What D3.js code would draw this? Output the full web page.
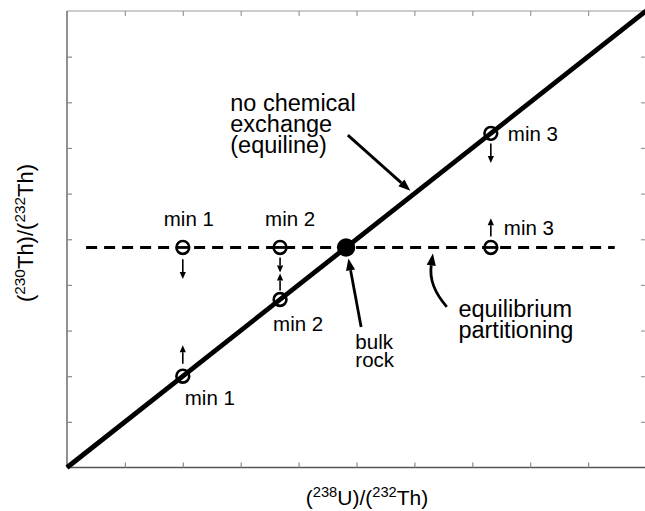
<!DOCTYPE html>
<html>
<head>
<meta charset="utf-8">
<script src="https://cdn.jsdelivr.net/npm/d3@7"></script>
<style>
  html, body { margin: 0; padding: 0; background: #fff; }
  svg { display: block; }
  text { font-family: "Liberation Sans", Arial, Helvetica, sans-serif; fill: #000; }
</style>
</head>
<body>
<svg id="chart" width="645" height="511"></svg>
<script>
// Activity ratios (dimensionless, arbitrary units on a 0–10 frame)
const minerals = ["min 1", "min 2", "min 3"];
const mineralU = [2.0, 3.68, 7.32];          // (238U)/(232Th) of each mineral
const bulkU = 4.82;                           // bulk rock (238U)/(232Th)
const bulkTh = 4.82;                          // bulk rock (230Th)/(232Th)
const partitionExtent = [0.33, 9.46];         // span of the equilibrium-partitioning line
const xTicks = [1, 2, 3, 4, 5, 6, 7, 8, 9];
const yTicks = [1, 2, 3, 4, 5, 6, 7, 8, 9];

// Direction of ingrowth for each mineral (start / end of small arrows, Th ratio units)
const equilineShift = [[2.27, 2.68], [3.88, 4.25], [7.10, 6.67]];
const partitionShift = [[4.56, 4.13], [4.60, 4.27], [5.06, 5.46]];

const svg = d3.select("#chart");
const x = d3.scaleLinear().domain([0, 10]).range([67, 646]);
const y = d3.scaleLinear().domain([0, 10]).range([467.5, 11]);

// Frame and inward ticks
const frame = svg.append("g");
frame.append("line").attr("x1", x(0)).attr("x2", x(10)).attr("y1", y(10)).attr("y2", y(10))
  .attr("stroke", "#9a9a9a").attr("stroke-width", 1.2);
frame.append("line").attr("x1", x(10)).attr("x2", x(10)).attr("y1", y(0)).attr("y2", y(10))
  .attr("stroke", "#9a9a9a").attr("stroke-width", 1.2);

const bottomAxis = d3.axisBottom(x).tickValues(xTicks).tickSize(-5).tickFormat("");
const topAxis = d3.axisTop(x).tickValues(xTicks).tickSize(-5).tickFormat("");
const leftAxis = d3.axisLeft(y).tickValues(yTicks).tickSize(-5).tickFormat("");
const rightAxis = d3.axisRight(y).tickValues(yTicks).tickSize(-5).tickFormat("");

function styleAxis(g, col) {
  g.select(".domain").remove();
  g.selectAll(".tick line").attr("stroke", col).attr("stroke-width", 1.2);
}
svg.append("g").attr("transform", `translate(0,${y(10)})`).call(topAxis).call(g => styleAxis(g, "#9a9a9a"));
svg.append("g").attr("transform", `translate(${x(10)},0)`).call(rightAxis).call(g => styleAxis(g, "#9a9a9a"));
svg.append("g").attr("transform", `translate(0,${y(0)})`).call(bottomAxis).call(g => styleAxis(g, "#8a8a8a"));
svg.append("g").attr("transform", `translate(${x(0)},0)`).call(leftAxis).call(g => styleAxis(g, "#8a8a8a"));

frame.append("line").attr("x1", x(0)).attr("x2", x(10)).attr("y1", y(0)).attr("y2", y(0))
  .attr("stroke", "#555").attr("stroke-width", 1.3);
frame.append("line").attr("x1", x(0)).attr("x2", x(0)).attr("y1", y(0)).attr("y2", y(10))
  .attr("stroke", "#555").attr("stroke-width", 1.3);

// Equilibrium partitioning (horizontal dashed line through bulk rock)
svg.append("line")
  .attr("x1", x(partitionExtent[0])).attr("x2", x(partitionExtent[1]))
  .attr("y1", y(bulkTh)).attr("y2", y(bulkTh))
  .attr("stroke", "#000").attr("stroke-width", 3)
  .attr("stroke-dasharray", "11,7");

// Equiline: no chemical exchange
svg.append("path")
  .datum([0, 10])
  .attr("d", d3.line().x(d => x(d)).y(d => y(d)))
  .attr("stroke", "#000").attr("stroke-width", 4.8).attr("fill", "none");

// Mineral symbols on the equiline (open circles)
const R = 6.4;
svg.append("g").selectAll("circle")
  .data(mineralU)
  .join("circle")
  .attr("cx", d => x(d)).attr("cy", d => y(d)).attr("r", R)
  .attr("fill", "none").attr("stroke", "#000").attr("stroke-width", 2.6);

// Mineral symbols on the partitioning line (circle with bar)
const pm = svg.append("g").selectAll("g").data(mineralU).join("g");
pm.append("circle")
  .attr("cx", d => x(d)).attr("cy", y(bulkTh)).attr("r", R)
  .attr("fill", "#fff").attr("stroke", "#000").attr("stroke-width", 2.6);
pm.append("line")
  .attr("x1", d => x(d) - R).attr("x2", d => x(d) + R)
  .attr("y1", y(bulkTh)).attr("y2", y(bulkTh))
  .attr("stroke", "#000").attr("stroke-width", 2.8);

// Bulk rock
svg.append("circle")
  .attr("cx", x(bulkU)).attr("cy", y(bulkTh)).attr("r", 9.2)
  .attr("fill", "#000");

// Arrow helper: filled triangular head at (x1,y1), returns the head's base point
function arrowHead(g, x0, y0, x1, y1, len, half) {
  const a = Math.atan2(y1 - y0, x1 - x0);
  const bx = x1 - len * Math.cos(a), by = y1 - len * Math.sin(a);
  const px = -Math.sin(a) * half, py = Math.cos(a) * half;
  g.append("path")
    .attr("d", `M${x1},${y1}L${bx + px},${by + py}L${bx - px},${by - py}Z`)
    .attr("fill", "#000");
  return [bx, by];
}
function smallArrow(xv, y0v, y1v) {
  const g = svg.append("g");
  const X = x(xv), Y0 = y(y0v), Y1 = y(y1v);
  const [bx, by] = arrowHead(g, X, Y0, X, Y1, 7, 3.1);
  g.append("line").attr("x1", X).attr("x2", bx).attr("y1", Y0).attr("y2", by)
    .attr("stroke", "#000").attr("stroke-width", 1.6);
}
mineralU.forEach((u, i) => {
  smallArrow(u, equilineShift[i][0], equilineShift[i][1]);
  smallArrow(u, partitionShift[i][0], partitionShift[i][1]);
});

// Mineral labels
const labelFont = 20.5;
const eqLabelOffset = [[2, 29], [-7, 31], [17, 7.5]];
const ptLabelOffset = [[-19, -21.5], [-15, -21.5], [13, -12.5]];
svg.append("g").selectAll("text").data(minerals).join("text")
  .attr("x", (d, i) => x(mineralU[i]) + eqLabelOffset[i][0])
  .attr("y", (d, i) => y(mineralU[i]) + eqLabelOffset[i][1])
  .attr("font-size", labelFont).text(d => d);
svg.append("g").selectAll("text").data(minerals).join("text")
  .attr("x", (d, i) => x(mineralU[i]) + ptLabelOffset[i][0])
  .attr("y", (d, i) => y(bulkTh) + ptLabelOffset[i][1])
  .attr("font-size", labelFont).text(d => d);

// Annotations
function multiLine(lines, xv, yv, size, lead) {
  const t = svg.append("text").attr("font-size", size);
  lines.forEach((s, i) => {
    t.append("tspan").attr("x", x(xv)).attr("y", y(yv) + i * lead).text(s);
  });
}
multiLine(["no chemical", "exchange", "(equiline)"], 2.82, 7.81, 23.5, 21);
multiLine(["equilibrium", "partitioning"], 6.76, 3.29, 23.5, 21);
multiLine(["bulk", "rock"], 4.98, 2.59, 20.5, 18);

// Pointer to the equiline
(function () {
  const g = svg.append("g");
  const x0 = x(4.85), y0 = y(7.28), x1 = x(5.93), y1 = y(6.06);
  const [bx, by] = arrowHead(g, x0, y0, x1, y1, 12, 4.6);
  g.append("line").attr("x1", x0).attr("y1", y0).attr("x2", bx).attr("y2", by)
    .attr("stroke", "#000").attr("stroke-width", 2.8);
})();
// Pointer to bulk rock
(function () {
  const g = svg.append("g");
  const x0 = x(5.08), y0 = y(3.08), x1 = x(4.86), y1 = y(4.58);
  const [bx, by] = arrowHead(g, x0, y0, x1, y1, 12, 4.6);
  g.append("line").attr("x1", x0).attr("y1", y0).attr("x2", bx).attr("y2", by)
    .attr("stroke", "#000").attr("stroke-width", 2.8);
})();
// Curved pointer to the partitioning line
(function () {
  const g = svg.append("g");
  const x0 = x(6.56), y0 = y(3.52), cx = x(6.24), cy = y(3.98), x1 = x(6.32), y1 = y(4.69);
  const [bx, by] = arrowHead(g, cx, cy, x1, y1, 12, 4.6);
  g.append("path").attr("d", `M${x0},${y0}Q${cx},${cy} ${bx},${by}`)
    .attr("fill", "none").attr("stroke", "#000").attr("stroke-width", 2.8);
})();

// Axis titles
const xt = svg.append("text").attr("x", 367).attr("y", 505)
  .attr("text-anchor", "middle").attr("font-size", 21);
xt.append("tspan").text("(");
xt.append("tspan").attr("baseline-shift", "super").attr("font-size", "70%").text("238");
xt.append("tspan").text("U)/(");
xt.append("tspan").attr("baseline-shift", "super").attr("font-size", "70%").text("232");
xt.append("tspan").text("Th)");

const yt = svg.append("text")
  .attr("transform", "translate(33,233) rotate(-90)")
  .attr("text-anchor", "middle").attr("font-size", 22);
yt.append("tspan").text("(");
yt.append("tspan").attr("baseline-shift", "super").attr("font-size", "70%").text("230");
yt.append("tspan").text("Th)/(");
yt.append("tspan").attr("baseline-shift", "super").attr("font-size", "70%").text("232");
yt.append("tspan").text("Th)");
</script>
</body>
</html>
